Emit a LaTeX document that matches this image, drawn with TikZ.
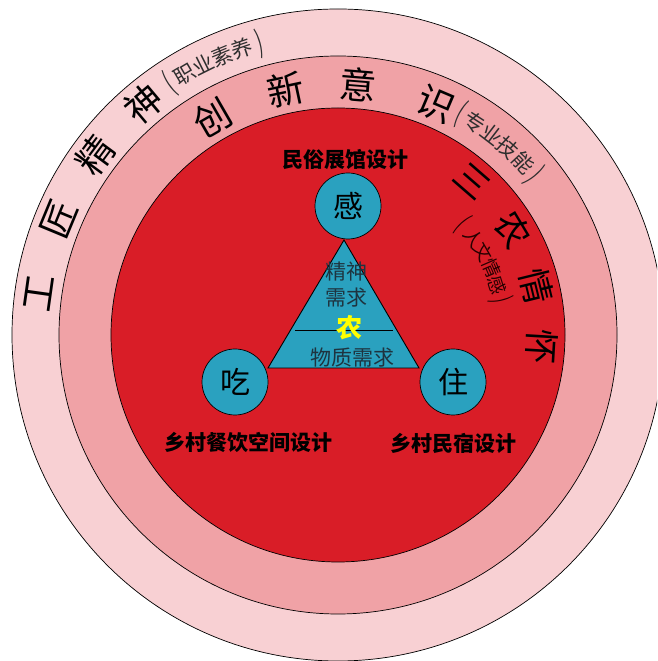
\documentclass[tikz,border=0pt]{standalone}
\usepackage{graphicx}
\usepackage{fontspec}
\setmainfont{Noto Sans CJK SC}
\newfontfamily\cjk{Noto Sans CJK SC}
\definecolor{pinkA}{HTML}{F8D0D3}
\definecolor{pinkB}{HTML}{F0A2A6}
\definecolor{redC}{HTML}{D91D27}
\definecolor{tealC}{HTML}{2AA1BF}
\definecolor{tritext}{HTML}{1E3440}
\definecolor{softtext}{HTML}{2E2E2E}
\definecolor{yel}{HTML}{FFFF00}
\newcommand\lpar{\scalebox{0.8}[1.45]{(}}
\newcommand\rpar{\scalebox{0.8}[1.45]{)}}
\tikzset{
  ringline/.style={draw=black, line width=0.7pt},
  ball/.style={circle, draw=black, line width=0.7pt, fill=tealC, minimum size=66pt, inner sep=0pt, font=\cjk\fontsize{30}{30}\selectfont},
  lbl/.style={inner sep=0pt, font=\cjk\bfseries\fontsize{21}{21}\selectfont},
  trit/.style={inner sep=0pt, text=tritext, font=\cjk\fontsize{21}{23}\selectfont},
  bigarc/.style={inner sep=0pt, font=\cjk\fontsize{37}{37}\selectfont},
  smallarc/.style={inner sep=0pt, text=softtext, font=\cjk\fontsize{21}{21}\selectfont},
  tinyarc/.style={inner sep=0pt, text=black!85!red, font=\cjk\fontsize{18.5}{18.5}\selectfont}
}
\begin{document}
\begin{tikzpicture}[x=1pt,y=1pt]
\useasboundingbox (0,0) rectangle (657,661);
\fill[white] (0,0) rectangle (657,661);
\begin{scope}
\clip (0,0) rectangle (657,661);
\coordinate (C) at (338,326);
\draw[ringline, fill=pinkA] (C) circle (326);
\draw[ringline, fill=pinkB] (C) circle (279);
\draw[ringline, fill=redC] (C) circle (227);
\end{scope}

% triangle
\coordinate (apex) at (344,421);
\coordinate (bl) at (268,293);
\coordinate (br) at (419,293);
\draw[line width=0.9pt, fill=tealC] (apex) -- (bl) -- (br) -- cycle;
\coordinate (ml) at (295,331);
\coordinate (mr) at (393,331);
\draw[line width=0.9pt] (ml) -- (mr);

% circles
\node[ball] (gan) at (348,455) {感};
\node[ball] (chi) at (235,279) {吃};
\node[ball] (zhu) at (453,279) {住};

% labels
\node[lbl] (l1) at (345,501) {民俗展馆设计};
\node[lbl] (l2) at (248,219) {乡村餐饮空间设计};
\node[lbl] (l3) at (453,218) {乡村民宿设计};

% triangle texts
\node[trit] (t1) at (346,389) {精神};
\node[trit] (t2) at (346,363) {需求};
\node[inner sep=0pt, text=yel, font=\cjk\bfseries\fontsize{26}{26}\selectfont] (t3) at (349,333) {农};
\node[trit, font=\cjk\fontsize{21}{21}\selectfont] (t4) at (352,303) {物质需求};

% arc texts
\foreach \a/\t [count=\i] in {172/工,157.5/匠,143.5/精,130/神}
  \node[bigarc, rotate=\a-90] (ob\i) at ([shift={(\a:302)}]C) {\t};
\foreach \a/\t [count=\i] in {123.8/\lpar,120.4/职,116.5/业,112.5/素,108.6/养,105/\rpar}
  \node[smallarc, rotate=\a-90] (os\i) at ([shift={(\a:302)}]C) {\t};
\foreach \a/\t [count=\i] in {120/创,102/新,85.3/意,67/识}
  \node[bigarc, rotate=\a-90] (mb\i) at ([shift={(\a:251)}]C) {\t};
\foreach \a/\t [count=\i] in {61/\lpar,57.2/专,52.5/业,47.8/技,43/能,39/\rpar}
  \node[smallarc, rotate=\a-90] (ms\i) at ([shift={(\a:253)}]C) {\t};
\foreach \a/\t [count=\i] in {49/三,31/农,13.8/情,-3.4/怀}
  \node[bigarc, font=\cjk\fontsize{35}{35}\selectfont, rotate=\a-90] (ib\i) at ([shift={(\a:204)}]C) {\t};
\foreach \a/\t [count=\i] in {41.8/\lpar,35.5/人,29.6/文,23.5/情,17.5/感,12/\rpar}
  \node[tinyarc, rotate=\a-90] (is\i) at ([shift={(\a:167)}]C) {\t};
\end{tikzpicture}
\end{document}
